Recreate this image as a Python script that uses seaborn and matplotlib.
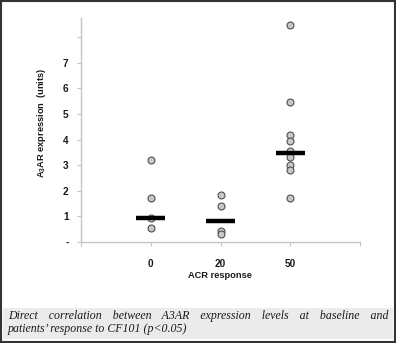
import matplotlib
matplotlib.use("Agg")
import matplotlib.pyplot as plt
import seaborn as sns
import pandas as pd
from matplotlib.patches import Rectangle

# ---- data ----
categories = ["0", "20", "50"]
group_0 = [3.2, 1.72, 0.94, 0.55]
group_20 = [1.84, 1.41, 0.44, 0.30]
group_50 = [8.48, 5.47, 4.18, 3.93, 3.55, 3.32, 3.0, 2.80, 1.72]
bar_values = [0.95, 0.82, 3.48]
y_tick_values = [0, 1, 2, 3, 4, 5, 6, 7, 8]
y_tick_labels = ["-", "1", "2", "3", "4", "5", "6", "7", ""]
x_label = "ACR response"
y_label = r"A$_\mathbf{3}$AR expression  (units)"
caption_line1 = "Direct correlation between A3AR expression levels at baseline and"
caption_line2 = "patients\u2019 response to CF101 (p<0.05)"

rows = []
for cat, vals in zip(categories, [group_0, group_20, group_50]):
    for v in vals:
        rows.append({"ACR": cat, "value": v})
df = pd.DataFrame(rows)

sns.set_style("white")
plt.rcParams["font.family"] = ["Liberation Sans", "DejaVu Sans"]
plt.rcParams["mathtext.fontset"] = "custom"
plt.rcParams["mathtext.rm"] = "Liberation Sans:bold"
plt.rcParams["mathtext.bf"] = "Liberation Sans:bold"

W, H = 396, 343
fig = plt.figure(figsize=(W / 100, H / 100), dpi=100)
fig.patch.set_facecolor("white")

ax = fig.add_axes([81 / W, 1 - 242 / H, 279 / W, 224 / H])
sns.stripplot(data=df, x="ACR", y="value", order=categories, jitter=False,
              color="#c8c8c8", edgecolor="#505050", linewidth=0.8, size=5.0,
              ax=ax, zorder=3)
for i, v in enumerate(bar_values):
    ax.hlines(v, i - 0.21, i + 0.21, color="black", linewidth=3.2, zorder=4)

ax.set_xlim(-1, 3)
ax.set_ylim(0, 8.75)
ax.set_xticks([-1, 0, 1, 2, 3])
ax.set_xticklabels([""] + categories + [""])
ax.set_yticks(y_tick_values)
ax.set_yticklabels(y_tick_labels)

gray = "#c4c4c4"
for s in ["top", "right"]:
    ax.spines[s].set_visible(False)
for s in ["left", "bottom"]:
    ax.spines[s].set_color(gray)
    ax.spines[s].set_linewidth(1.0)
ax.tick_params(axis="y", length=3, width=0.8, color=gray, pad=6, labelsize=7.2,
               labelcolor="#1a1a1a", left=True)
ax.tick_params(axis="x", length=3, width=0.8, color=gray, pad=9, labelsize=7.2,
               labelcolor="#1a1a1a", bottom=True)
for t in ax.get_xticklabels() + ax.get_yticklabels():
    t.set_fontweight("bold")

ax.set_xlabel(x_label, fontsize=6.7, fontweight="bold", color="#1a1a1a")
ax.set_ylabel(y_label, fontsize=6.7, fontweight="bold", color="#1a1a1a")
ax.xaxis.set_label_coords((220 - 81) / 279, (242 - 276) / 224)
ax.yaxis.set_label_coords((42 - 81) / 279, (242 - 123) / 224)
ax.xaxis.label.set_va("center")
ax.yaxis.label.set_va("center")

# caption box
fig.patches.append(Rectangle((3 / W, 1 - 339 / H), 390 / W, 31 / H,
                             transform=fig.transFigure, facecolor="#ebebeb",
                             edgecolor="none", zorder=0))
# outer frame
fig.patches.append(Rectangle((1 / W, 1 / H), (W - 2) / W, (H - 2) / H,
                             transform=fig.transFigure, facecolor="none",
                             edgecolor="#333333", linewidth=1.5, zorder=5))

cap_font = dict(family=["Liberation Serif", "DejaVu Serif"], style="italic",
                fontsize=8.6, color="#1a1a1a")
renderer = fig.canvas.get_renderer()


def text_width(s):
    t = fig.text(0, 0, s, **cap_font)
    wdt = t.get_window_extent(renderer=renderer).width
    t.remove()
    return wdt


# justified first line built as one string with padded spaces
words = caption_line1.split(" ")
x0, x1 = 8, 388
base = text_width("ab")
sp = text_width("a b") - base
th = text_width("a\u2009b") - base
hr = text_width("a\u200ab") - base
word_w = [text_width(w) for w in words]
gap = (x1 - x0 - sum(word_w)) / (len(words) - 1)
line = words[0]
target = word_w[0]
for wd, ww in zip(words[1:], word_w[1:]):
    target += gap
    need = target - text_width(line + "x") + text_width("x")
    n_sp = max(int(need // sp), 1)
    rem = need - n_sp * sp
    n_th = int(max(rem, 0) // th) if th > 0 else 0
    rem -= n_th * th
    n_hr = int(round(max(rem, 0) / hr)) if hr > 0 else 0
    line += " " * n_sp + "\u2009" * n_th + "\u200a" * n_hr + wd
    target += ww
fig.text(x0 / W, 1 - 319.5 / H, line, ha="left", va="baseline", **cap_font)
fig.text(x0 / W, 1 - 332 / H, caption_line2, ha="left", va="baseline", **cap_font)

fig.savefig("out.png", dpi=100, facecolor="white")
